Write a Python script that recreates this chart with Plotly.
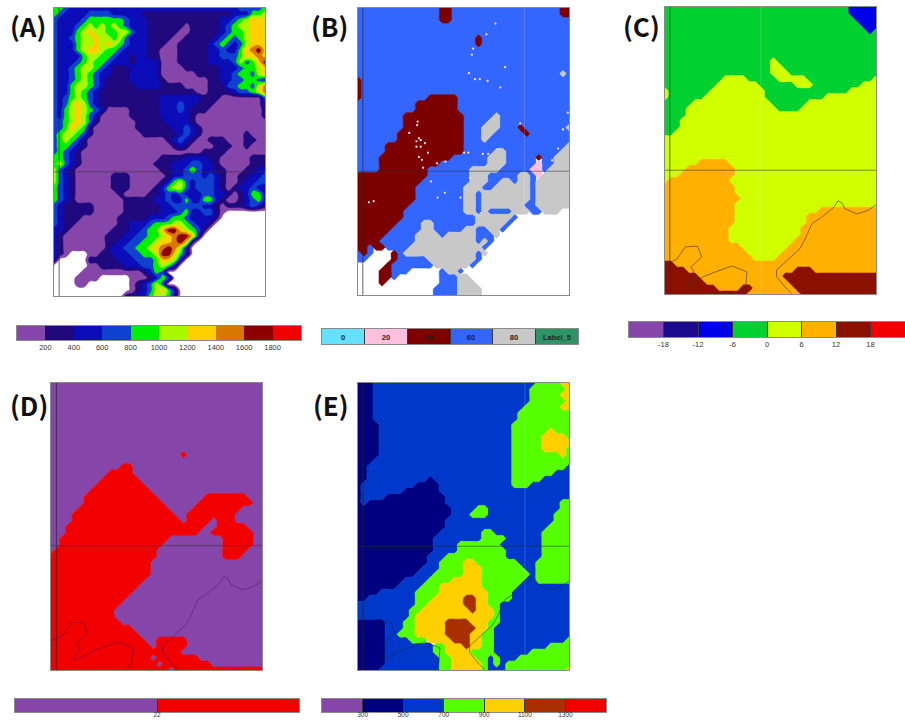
import plotly.graph_objects as go

WIDTH, HEIGHT = 905, 721
N_COLS, N_ROWS = 36, 49

# ---- data: class grids ----
grid_a = [
"4432222222222222" "222222222222" "22233334",
"4322223333222221" "111111111111" "11222445",
"3222234444443222" "111111111111" "22345666",
"3222345454543222" "111111011111" "23455666",
"3222456554455322" "111110011111" "23445666",
"3223455655453222" "111100111112" "34345666",
"3222455656543222" "111001111123" "43235666",
"3222456654432222" "110001111122" "32246786",
"3222245544322122" "110001111122" "33346676",
"3222345443222122" "220001111122" "22353468",
"3223455432111222" "220000111111" "22234456",
"3223454322111222" "220000001111" "22344356",
"3223454321111222" "221000000011" "22334432",
"3224554321111122" "221111000011" "13344357",
"3224543211111111" "111111110011" "11233457",
"3234543211111111" "112222222111" "00000003",
"3235653211111111" "112223221110" "00000002",
"3245654320000111" "112223211100" "00000001",
"3245653200000111" "112222210000" "00000001",
"3345653100000011" "111222210000" "00000000",
"3346541000000011" "111122321000" "00000000",
"3455431000000001" "111112321000" "00001000",
"3454310000000000" "000123210011" "10001100",
"3443210000000000" "000012100001" "11001000",
"3432100000000000" "000000000111" "10000000",
"4432100000000000" "001111222211" "00000111",
"4532100000000000" "011122233221" "00000111",
"5321000000000000" "001122343221" "10001122",
"5321000000111000" "000122333232" "10011223",
"5321000000111000" "001245323332" "10012233",
"4321000000111000" "012455323332" "10122321",
"4321000000010000" "112323222332" "21012442",
"4321000000001111" "122322422442" "10012342",
"3211111000001111" "112233333221" "01112321",
"3211111000001111" "112223422331" "0.......",
"3211100000011111" "222344322221" "........",
"3211000000011222" "34445543221." "........",
"2210000000111223" "4468865431.." "........",
"2100000001112233" "445678862..." "........",
"2100000001122334" "45667861...." "........",
"2100000001223344" "5678752....." "........",
"210...0011222334" "4588642....." "........",
"2.....1111122233" "346652......" "........",
"......0011112223" "34542......." "........",
".....00000000001243.................",
"....0000.....0001243................",
"....00.......012353.................",
".............01235642...............",
"............112245542...............",
]
grid_b = [
"bbbbbbbbbbbbbbmmbbbbbbbbbbbbbbbbbbmm",
"bbbbbbbbbbbbbbmmbbbbbbbbbbbbbbbbbbmm",
"bbbbbbbbbbbbbbmmbbbbbbbbbbbbbbbbbbbb",
"bbbbbbbbbbbbbbbbbbbbbbbbbbbbbbbbbbbb",
"bbbbbbbbbbbbbbbbbbbbbbbbbbbbbbbbbbbb",
"bbbbbbbbbbbbbbbbbbbbmbbbbbbbbbbbbbbb",
"bbbbbbbbbbbbbbbbbbbbmbbbbbbbbbbbbbbb",
"bbbbbbbbbbbbbbbbbbbbbbbbbbbbbbbbbbbb",
"bbbbbbbbbbbbbbbbbbbbbbbbbbbbbbbbbbbb",
"bbbbbbbbbbbbbbbbbbbbbbbbbbbbbbbbbbbb",
"bbbbbbbbbbbbbbbbbbbbbbbbbbbbbbbbbbbb",
"bbbbbbbbbbbbbbbbbbbbbbbbbbbbbbbbbbgb",
"mbbbbbbbbbbbbbbbbbbbbbbbbbbbbbbbbbbb",
"mbbbbbbbbbbbbbbbbbbbbbbbbbbbbbbbbbbb",
"mbbbbbbbbbbbbbbbbbbbbbbbbbbbbbbbbbbb",
"mbbbbbbbbbbbmmmmmbbbbbbbbbbbbbbbbbbb",
"bbbbbbbbbbmmmmmmmbbbbbbbbbbbbbbbbbbb",
"bbbbbbbbbbmmmmmmmbbbbbbbbbbbbbbbbbbb",
"bbbbbbbbmmmmmmmmmmbbbbbgbbbbbbbbbbbb",
"bbbbbbbbmmmmmmmmmmbbbbggbbbbbbbbbbbb",
"bbbbbbbbmmmmmmmmmmbbbgggbbbmbbbbbbbg",
"bbbbbbbmmmmmmmmmmmbbbggbbbbbmbbbbbbb",
"bbbbbbbmmmmmmmmmmmbbbgbbbbbbbbbbbbbb",
"bbbbbmmmmmmmmmmmmmbbbbbbbbbbbbbbbbbg",
"bbbbbmmmmmmmmmmmmmbbbbbggbbbbbbbbbgg",
"bbbbmmmmmmmmmmmmbbbbbbgggbbbbbmbbggg",
"bbbbmmmmmmmmmmbbbbbbbbgggbbbbbpbbggg",
"bbbbmmmmmmmmbbbbbbbgggggbbbbbppbgggg",
"mmmmmmmmmmmmbbbbbbbgggbbbbbggbpggggg",
"mmmmmmmmmmmbbbbbbbbgggbbggbggbgggggg",
"mmmmmmmmmmbbbbbbbbgggbbggggggbgggggg",
"mmmmmmmmmmbbbbbbbbggbggggggggbgggggg",
"mmmmmmmmmmbbbbbbbbggbggggggggbgggggg",
"mmmmmmmmmbbbbbbbbbggbgggggggbbgggggg",
"mmmmmmmmbbbbbbbbbbggbgbbbbgggbbggg..",
"mmmmmmmmbbbbbbbbbbbbggggggb.........",
"mmmmmmmbbbbggbbbbbbbgggggb..........",
"mmmmmmbbbbbggbbbbbggbbggb...........",
"mmmmmbbbbbggggbgggggbbbg............",
"mmmmbbbbbbggggggggggbgb.............",
"mmbmmbbbbggggggggggggb..............",
"bmb...mbggggggggggggbg..............",
"bb....mbbbbbggggggggb...............",
".....mbbbbbbbggggggb................",
"....mmbbb.....bggb..................",
"....mmb.......bbbgg.................",
"....m.........bbbggg................",
".............bbbbgggg...............",
".............bbbbgggg...............",
]
grid_c = [
"gggggggggggggggggggggggggggggggnnnnn",
"gggggggggggggggggggggggggggggggnnnnn",
"ggggggggggggggggggggggggggggggggnnnn",
"gggggggggggggggggggggggggggggggggnnn",
"ggggggggggggggggggggggggggggggggggng",
"gggggggggggggggggggggggggggggggggggg",
"gggggggggggggggggggggggggggggggggggg",
"gggggggggggggggggggggggggggggggggggg",
"gggggggggggggggggggggggggggggggggggg",
"ggggggggggggggggggyggggggggggggggggg",
"ggggggggggggggggggyygggggggggggggggg",
"ggggggggggggggggggyyyggggggggggggggg",
"ggggggggggyyyygggggyyyyygggggggggggy",
"gggggggggyyyyyyyggggggyyyggggggggyyy",
"ygggggggyyyyyyyyyggggggggggggggyyyyy",
"yggggggyyyyyyyyyyggggggggggyyyyyyyyy",
"gggggyyyyyyyyyyyyyggggggyyyyyyyyyyyy",
"ggggyyyyyyyyyyyyyyyggggyyyyyyyyyyyyy",
"ggggyyyyyyyyyyyyyyyyyyyyyyyyyyyyyyyy",
"gggyyyyyyyyyyyyyyyyyyyyyyyyyyyyyyyyy",
"gggyyyyyyyyyyyyyyyyyyyyyyyyyyyyyyyyy",
"ggyyyyyyyyyyyyyyyyyyyyyyyyyyyyyyyyyy",
"yyyyyyyyyyyyyyyyyyyyyyyyyyyyyyyyyyyy",
"yyyyyyyyyyyyyyyyyyyyyyyyyyyyyyyyyyyy",
"yyyyyyyyyyyyyyyyyyyyyyyyyyyyyyyyyyyy",
"yyyyyyyyyyyyyyyyyyyyyyyyyyyyyyyyyyyy",
"yyyyyyoooooyyyyyyyyyyyyyyyyyyyyyyyyy",
"yyyyooooooooyyyyyyyyyyyyyyyyyyyyyyyy",
"yyyoooooooooyyyyyyyyyyyyyyyyyyyyyyyy",
"yooooooooooyyyyyyyyyyyyyyyyyyyyyyyyy",
"ooooooooooooyyyyyyyyyyyyyyyyyyyyyyyy",
"ooooooooooooyyyyyyyyyyyyyyyyyyyyyyyy",
"oooooooooooooyyyyyyyyyyyyyyyyyyyyyyy",
"ooooooooooooyyyyyyyyyyyyyyyyyyyyyyyy",
"ooooooooooooyyyyyyyyyyyyyyoooooooooo",
"ooooooooooooyyyyyyyyyyyyoooooooooooo",
"ooooooooooooyyyyyyyyyyyyoooooooooooo",
"oooooooooooyyyyyyyyyyyyooooooooooooo",
"oooooooooooyyyyyyyyyyyyooooooooooooo",
"oooooooooooyyyyyyyyyyyoooooooooooooo",
"oooooooooooooyyyyyyyyooooooooooooooo",
"ooooooooooooooyyyyyyoooooooooooooooo",
"oooooooooooooooyyyyooooooooooooooooo",
"rroooooooooooooooooooooooooooooooooo",
"rrrroooooooooooooooooorrrooooooooooo",
"rrrrrroooooooooooooorrrrrrrrrrrrrrrr",
"rrrrrrroooooooooooooorrrrrrrrrrrrrrr",
"rrrrrrrrroooorrooooooorrrrrrrrrrrrrr",
"rrrrrrrrrrrrrrooooooooorrrrrrrrrrrrr",
]
grid_d = [
"pppppppppppppppppppppppppppppppppppp",
"pppppppppppppppppppppppppppppppppppp",
"pppppppppppppppppppppppppppppppppppp",
"pppppppppppppppppppppppppppppppppppp",
"pppppppppppppppppppppppppppppppppppp",
"pppppppppppppppppppppppppppppppppppp",
"pppppppppppppppppppppppppppppppppppp",
"pppppppppppppppppppppppppppppppppppp",
"pppppppppppppppppppppppppppppppppppp",
"pppppppppppppppppppppppppppppppppppp",
"pppppppppppppppppppppppppppppppppppp",
"pppppppppppppppppppppppppppppppppppp",
"pppppppppppppppppppppprppppppppppppp",
"pppppppppppppppppppppppppppppppppppp",
"pppppppppppprrpppppppppppppppppppppp",
"pppppppppprrrrpppppppppppppppppppppp",
"ppppppppprrrrrrppppppppppppppppppppp",
"pppppppprrrrrrrrpppppppppppppppppppp",
"ppppppprrrrrrrrrrppppppppppppppppppp",
"pppppprrrrrrrrrrrrpppppppprrrrrrrppp",
"pppppprrrrrrrrrrrrrpppppprrrrrrrrrpp",
"ppppprrrrrrrrrrrrrrrpppprrrrrrrrpppp",
"pppprrrrrrrrrrrrrrrrrpprrrrrrrrppppp",
"pppprrrrrrrrrrrrrrrrrrprrrrprrrppppp",
"ppprrrrrrrrrrrrrrrrrrrrrrrpprrrrrppp",
"ppprrrrrrrrrrrrrrrrrrrrrrpprrrrrrrpp",
"pprrrrrrrrrrrrrrrrrrppppppppprrrrrpp",
"pprrrrrrrrrrrrrrrrrpppppppppprrrrrpp",
"prrrrrrrrrrrrrrrrrppppppppppprrrrppp",
"rrrrrrrrrrrrrrrrrrppppppppppprrrpppp",
"rrrrrrrrrrrrrrrrrppppppppppppppppppp",
"rrrrrrrrrrrrrrrrrppppppppppppppppppp",
"rrrrrrrrrrrrrrrrrppppppppppppppppppp",
"rrrrrrrrrrrrrrrrpppppppppppppppppppp",
"rrrrrrrrrrrrrrrppppppppppppppppppppp",
"rrrrrrrrrrrrrrpppppppppppppppppppppp",
"rrrrrrrrrrrrrppppppppppppppppppppppp",
"rrrrrrrrrrrrpppppppppppppppppppppppp",
"rrrrrrrrrrrppppppppppppppppppppppppp",
"rrrrrrrrrrrppppppppppppppppppppppppp",
"rrrrrrrrrrrrpppppppppppppppppppppppp",
"rrrrrrrrrrrrrrpppppppppppppppppppppp",
"rrrrrrrrrrrrrrrppppppppppppppppppppp",
"rrrrrrrrrrrrrrrrpprrrrrppppppppppppp",
"rrrrrrrrrrrrrrrrrprrrrrppppppppppppp",
"rrrrrrrrrrrrrrrrrrrrrrpppppppppppppp",
"rrrrrrrrrrrrrrrrrprrrrrrrppppppppppp",
"rrrrrrrrrrrrrrrrrrprrrrrrrrppppppppp",
"rrrrrrrrrrrrrrrrrrrrprrrrrrrrrrrrrrr",
]
grid_e = [
"NNNbbbbbbbbbbbbbbbbbbbbbbbbbbbggggyy",
"NNNbbbbbbbbbbbbbbbbbbbbbbbbbbggggggy",
"NNNbbbbbbbbbbbbbbbbbbbbbbbbbbgggggyy",
"NNNbbbbbbbbbbbbbbbbbbbbbbbbbbggggggy",
"NNNbbbbbbbbbbbbbbbbbbbbbbbbbggggggyy",
"NNNbbbbbbbbbbbbbbbbbbbbbbbbggggggggg",
"NNNbbbbbbbbbbbbbbbbbbbbbbbbggggggggg",
"NNNNbbbbbbbbbbbbbbbbbbbbbbgggggggggg",
"NNNNbbbbbbbbbbbbbbbbbbbbbbggggggyggg",
"NNNNbbbbbbbbbbbbbbbbbbbbbbgggggyyyyg",
"NNNNbbbbbbbbbbbbbbbbbbbbbbgggggyyyyy",
"NNNNbbbbbbbbbbbbbbbbbbbbbbgggggyyyyg",
"NNNNbbbbbbbbbbbbbbbbbbbbbbggggggggyg",
"NNNbbbbbbbbbbbbbbbbbbbbbbbgggggggggg",
"NNbbbbbbbbbbbbbbbbbbbbbbbbgggggggggb",
"NNbbbbbbbbbbbbbbbbbbbbbbbbgggggggbbb",
"NNbbbbbbbbbbNbbbbbbbbbbbbbgggggbbbbb",
"NbbbbbbbbbNNNNbbbbbbbbbbbbgggbbbbbbb",
"NbbbbbbbNNNNNNbbbbbbbbbbbbbbbbbbbbbb",
"NbbbbNNNNNNNNNNbbbbbbbbbbbbbbbbbbbbb",
"NbNNNNNNNNNNNNNbbbbbbbbbbbbbbbbbbbgg",
"NNNNNNNNNNNNNNNNbbbbggbbbbbbbbbbbbgg",
"NNNNNNNNNNNNNNNNbbbgggbbbbbbbbbbbggg",
"NNNNNNNNNNNNNNNbbbbbbbbbbbbbbbbbbggg",
"NNNNNNNNNNNNNNNbbbbbbbbbbbbbbbbbgggg",
"NNNNNNNNNNNNNNbbbbbbbggbbbbbbbbggggg",
"NNNNNNNNNNNNNbbbbbbbbggggbbbbbbggggg",
"NNNNNNNNNNNNNbbbbgggggggbbbbbbbggggg",
"NNNNNNNNNNNNNbbbbggggggggbbbbbbggggg",
"NNNNNNNNNNNNbbbggggggggggbbbbbbggggg",
"NNNNNNNNNNNNbbggggyygggggggbbbgggggg",
"NNNNNNNNNNNbbbggggyyygggggggbbgggggg",
"NNNNNNNNNNbbbgggggyyyggggggggbgggggg",
"NNNNNNNNbbbbggggyyyyygggggggbbgggggg",
"NNNNNNNbbbbgggyyyyyyyggggggbbbbbbbbb",
"NNNNbbbbbbggggyyyyyyyyggggbbbbbbbbbb",
"NNbbbbbbbbgggyyyyykkyyggggbbbbbbbbbb",
"bbbbbbbbbbggyyyyyykkyyggbbbbbbbbbbbb",
"bbbbbbbbbggyyyyyyyykyyygbbbbbbbbbbbb",
"bbbbbbbbbgyyyyyyyyyyyyygbbbbbbbbbbbb",
"NNNNNbbbggyyyyykkkkyyyggbbbbbbbbbbbb",
"NNNNNbbbggyyyyykkkkkyygbbbbbbbbbbbbb",
"NNNNNbbgggyyyyykkkkyyggbbbbbbbbbbbbb",
"NNNNNbbbbgggyyyykkkyyggbbbbbbbbbbbbg",
"NNNNNbbbbbbbbggyyykyyggbbbbbbbbbgggg",
"NNNNNbbbbbbbbggyyyyggggbbbbbbggggggg",
"NNNNNbbbbbbbbbggyyyyggbgbbbggggggggg",
"NNNNNbbbbbbbbbggyyyyygbgbggggggggggg",
"NNNNbbbbbbbbbbggyyyyygbbbggggggggggy",
]
colors_a = ["#8645a8", "#20087f", "#0c0cb8", "#1040d0", "#00f000", "#a8f800", "#ffd000", "#d87800", "#8c0000", "#f00000"]
labels_a = ["200", "400", "600", "800", "1000", "1200", "1400", "1600", "1800"]
colors_b = ["#66e0ff", "#ffc0e0", "#7c0000", "#3366ff", "#c8c8c8", "#2e9468"]
labels_b = ["0", "20", "40", "60", "80", "Label_5"]
colors_c = ["#8645a8", "#1c0a8c", "#0000e8", "#00d030", "#d0ff00", "#ffb000", "#8c1000", "#f00000"]
labels_c = ["-18", "-12", "-6", "0", "6", "12", "18"]
colors_d = ["#8645a8", "#f20000"]
labels_d = ["22"]
colors_e = ["#8645a8", "#000080", "#0038cc", "#55ff00", "#ffd000", "#a83000", "#f00000"]
labels_e = ["300", "500", "700", "900", "1100", "1300"]

classes_b = {"b": "#3366ff", "m": "#7c0000", "g": "#c8c8c8", "p": "#ffc0e0"}
classes_c = {"g": "#00d030", "y": "#d0ff00", "o": "#ffb000", "r": "#8c1000", "n": "#0000e8"}
classes_d = {"p": "#8645a8", "r": "#f20000"}
classes_e = {"N": "#000080", "b": "#0038cc", "g": "#55ff00", "y": "#ffd000", "k": "#a83000"}

coast_east_x = [35.8, 33.5, 31.8, 29.8, 29.4, 28.7, 28.1, 26.1, 24.4, 23.3, 22.4, 20.5, 18.5, 18.5, 19.9, 21.0]
coast_east_y = [32.6, 34.1, 34.6, 33.7, 32.8, 32.4, 33.4, 35.1, 36.2, 38.7, 40.4, 42.1, 44.0, 45.1, 46.8, 47.9]
coast_west_x = [0.0, 2.0, 3.4, 5.4, 6.1, 4.3, 4.8, 3.7, 6.8, 11.1, 13.6, 13.4, 12.5]
coast_west_y = [43.2, 42.1, 40.1, 40.0, 41.8, 43.5, 44.3, 46.5, 44.9, 43.3, 44.3, 46.8, 48.0]

spots_x = [22.8, 21.3, 19.1, 18.9, 24.4, 18.4, 19.4, 20.2, 21.5, 23.6, 34.8, 34.0, 33.2, 32.2, 26.9, 17.6, 18.3, 20.7, 21.6, 18.6, 14.4, 13.2, 17.0,
           9.9, 9.8, 8.5, 10.1, 9.7, 10.4, 11.1, 9.7, 10.4, 10.1, 11.6, 10.6, 13.1, 14.5, 10.8, 12.1, 1.8, 2.6]
spots_y = [2.6, 4.4, 6.8, 7.8, 9.9, 10.9, 11.9, 11.9, 12.2, 13.3, 17.5, 20.3, 23.5, 25.5, 19.3, 24.2, 24.2, 24.4, 24.4, 28.4, 30.9, 31.7, 31.7,
           19.0, 19.6, 20.9, 21.8, 22.3, 22.1, 22.6, 23.2, 23.2, 24.9, 24.2, 25.4, 26.0, 25.7, 26.7, 29.0, 32.5, 32.3]

# ---- layout helpers ----
fig = go.Figure()
axes = {}
shapes = []
annotations = []
axis_no = [0]


def norm(grid):
    rows = [(r + r[-1] * N_COLS)[:N_COLS] for r in grid]
    while len(rows) < N_ROWS:
        rows.append(rows[-1])
    return rows[:N_ROWS]


def new_axes(box, **xopts):
    axis_no[0] += 1
    n = axis_no[0]
    x0, y0, x1, y1 = box
    suffix = "" if n == 1 else str(n)
    xa, ya = "x" + suffix, "y" + suffix
    axes["xaxis" + suffix] = dict(domain=[x0 / WIDTH, x1 / WIDTH], anchor=ya, automargin=False, **xopts)
    axes["yaxis" + suffix] = dict(domain=[1 - y1 / HEIGHT, 1 - y0 / HEIGHT], anchor=xa, automargin=False,
                                  showticklabels=False, ticks="", showgrid=False, zeroline=False)
    return n, xa, ya, suffix


def mask_trace(rows, test, color, xa, ya, smooth):
    z = [[1 if test(c) else 0 for c in r] for r in rows]
    return go.Contour(z=z, x=list(range(N_COLS)), y=list(range(N_ROWS)), xaxis=xa, yaxis=ya,
                      contours=dict(type="constraint", operation="<", value=0.5),
                      fillcolor=color, line=dict(width=0.6, color=color, smoothing=smooth),
                      showscale=False, hoverinfo="skip")


def map_panel(box, layers, label, label_xy, hline, vline_left, vline_extra=None, coast=None, coast_color="rgba(60,50,50,0.75)"):
    n, xa, ya, suffix = new_axes(box, range=[0, N_COLS - 1], showticklabels=False, ticks="", showgrid=False,
                                 zeroline=False, showline=True, mirror=True, linecolor="#8a8a8a", linewidth=1)
    axes["yaxis" + suffix].update(range=[N_ROWS - 1, 0], showline=True, mirror=True, linecolor="#8a8a8a", linewidth=1)
    for tr in layers(xa, ya):
        fig.add_trace(tr)
    shapes.append(dict(type="line", xref=xa, yref=ya, x0=0, x1=N_COLS - 1, y0=hline, y1=hline,
                       line=dict(color="rgba(50,50,50,0.55)", width=1), layer="above"))
    shapes.append(dict(type="line", xref=xa, yref=ya, x0=vline_left, x1=vline_left, y0=0, y1=N_ROWS - 1,
                       line=dict(color="rgba(40,40,40,0.7)", width=1), layer="above"))
    if vline_extra is not None:
        shapes.append(dict(type="line", xref=xa, yref=ya, x0=vline_extra, x1=vline_extra, y0=0, y1=N_ROWS - 1,
                           line=dict(color="rgba(255,255,255,0.18)", width=1), layer="above"))
    if coast:
        for cx, cy in coast:
            fig.add_trace(go.Scatter(x=cx, y=cy, xaxis=xa, yaxis=ya, mode="lines",
                                     line=dict(color=coast_color, width=0.8), hoverinfo="skip", showlegend=False))
    annotations.append(dict(text=label, xref="paper", yref="paper", x=label_xy[0] / WIDTH, y=1 - label_xy[1] / HEIGHT,
                            xanchor="left", yanchor="middle", showarrow=False,
                            font=dict(family="Noto Sans CJK KR, Noto Sans", size=26, color="#111111", weight="bold")))


def categorical(grid, classes, smooth=0.4):
    rows = norm(grid)

    def build(xa, ya):
        return [mask_trace(rows, (lambda c, k=k: c == k), col, xa, ya, smooth) for k, col in classes.items()]
    return build


def cumulative(grid, colors, smooth=1.2):
    rows = norm(grid)

    def build(xa, ya):
        out = []
        for k, col in enumerate(colors):
            z = [[(-1 if c == "." else int(c)) for c in r] for r in rows]
            out.append(go.Contour(z=z, x=list(range(N_COLS)), y=list(range(N_ROWS)), xaxis=xa, yaxis=ya,
                                  contours=dict(type="constraint", operation="<", value=k - 0.5),
                                  fillcolor=col, line=dict(width=0.5, color=col, smoothing=smooth),
                                  showscale=False, hoverinfo="skip"))
        return out
    return build


def color_bar(box, colors, labels, inside=False, separators=True, standoff=0, font_size=7.5):
    n = len(colors)
    scale = []
    for i, c in enumerate(colors):
        scale += [[i / n, c], [(i + 1) / n, c]]
    opts = dict(range=[-0.5, n - 0.5], showgrid=False, zeroline=False, showline=True, mirror=True,
                linecolor="#8a8a8a", linewidth=1)
    ticks = [i + 0.5 for i in range(n - 1)]
    opts.update(tickvals=ticks, ticks="inside" if separators else "", ticklen=box[3] - box[1],
                tickcolor="#3a3a3a", tickwidth=1)
    if inside:
        opts.update(showticklabels=False)
    else:
        opts.update(ticktext=labels, ticklabelstandoff=standoff,
                    tickfont=dict(family="Liberation Sans", size=font_size, color="#333333"))
    _, xa, ya, suffix = new_axes(box, **opts)
    axes["yaxis" + suffix].update(showline=True, mirror=True, linecolor="#8a8a8a", linewidth=1)
    hm = dict(z=[list(range(n))], x=list(range(n)), xaxis=xa, yaxis=ya, colorscale=scale,
              zmin=-0.5, zmax=n - 0.5, showscale=False, hoverinfo="skip")
    if inside:
        hm.update(text=[labels], texttemplate="<b>%{text}</b>",
                  textfont=dict(family="Liberation Sans", size=7.5, color="#222222"))
    fig.add_trace(go.Heatmap(**hm))


coast = [(coast_east_x, coast_east_y), (coast_west_x, coast_west_y)]

map_panel((54, 8, 265, 296), cumulative(grid_a, colors_a), "(A)", (8, 26), 27.3, 0.85)
map_panel((358, 8, 569, 295), categorical(grid_b, classes_b), "(B)", (309, 26), 27.3, 0.8, 27.6)
fig.add_trace(go.Scatter(x=spots_x, y=spots_y, xaxis="x2", yaxis="y2", mode="markers",
                         marker=dict(size=2.2, color="#ffe4f0"), hoverinfo="skip", showlegend=False))
map_panel((665, 7, 876, 294), categorical(grid_c, classes_c), "(C)", (621, 26), 27.3, 0.8, 15.9, coast)
map_panel((51, 383, 262, 670), categorical(grid_d, classes_d), "(D)", (8, 404), 27.2, 0.9, None, coast,
          "rgba(70,20,90,0.6)")
map_panel((358, 383, 569, 670), categorical(grid_e, classes_e), "(E)", (311, 404), 27.3, 0.8, 27.7, coast,
          "rgba(0,40,40,0.6)")

color_bar((17, 326, 301, 340), colors_a, labels_a, separators=False)
color_bar((322, 329, 578, 344), colors_b, labels_b, inside=True)
color_bar((629, 322, 905, 337), colors_c, labels_c)
color_bar((15, 699, 299, 712), colors_d, labels_d, standoff=-4, font_size=6.5)
color_bar((322, 699, 606, 712), colors_e, labels_e, standoff=-4, font_size=6.5)

fig.update_layout(width=WIDTH, height=HEIGHT, margin=dict(l=0, r=0, t=0, b=0, autoexpand=False), autosize=False,
                  paper_bgcolor="white", plot_bgcolor="white", showlegend=False,
                  shapes=shapes, annotations=annotations, **axes)
fig.write_html("out.html", config={"displayModeBar": False}, post_script="document.body.style.margin='0';")
